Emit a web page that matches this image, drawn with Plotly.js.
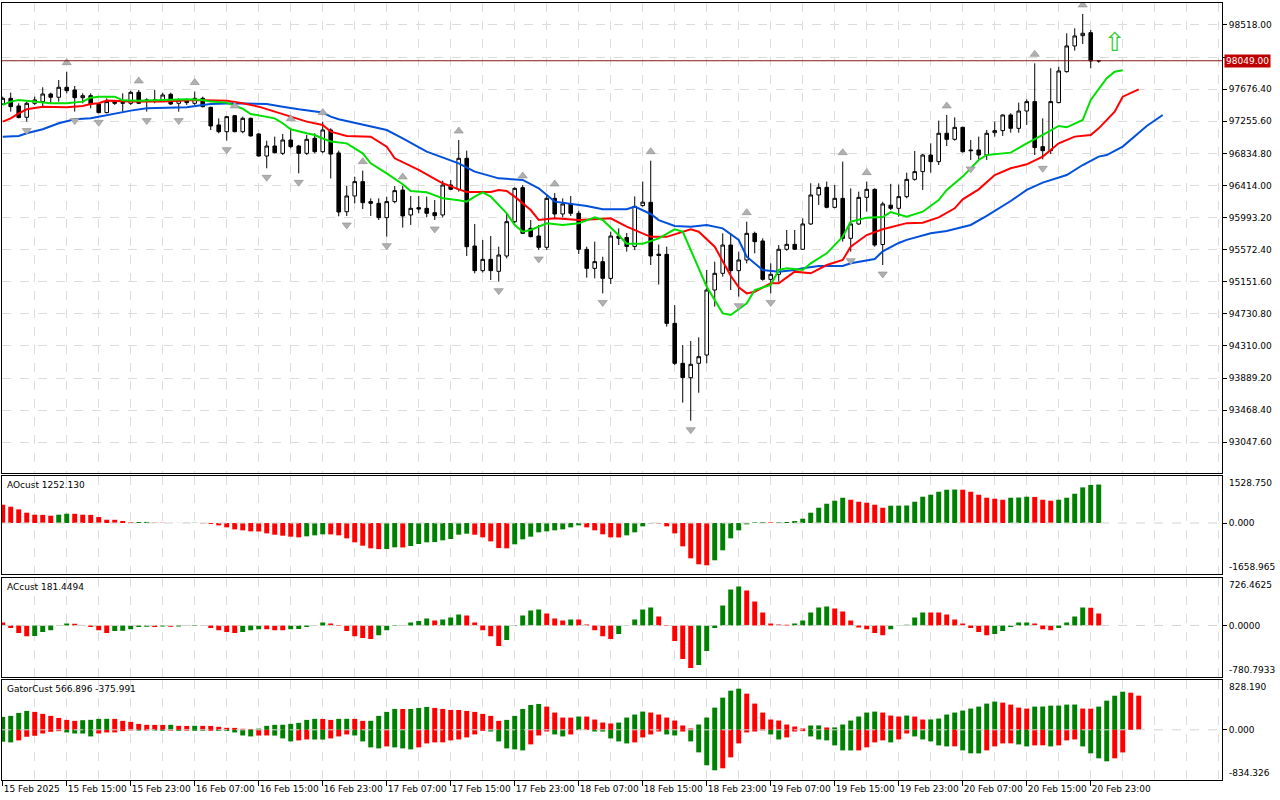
<!DOCTYPE html>
<html><head><meta charset="utf-8">
<script src="https://cdn.plot.ly/plotly-3.0.1.min.js"></script>
<style>html,body{margin:0;padding:0;background:#fff}#chart{width:1280px;height:800px}</style>
</head><body><div id="chart"></div>
<script>
// ---- Price bars (hourly), index 0 = 15 Feb 2025 07:00 ----
const open = [97482,97556,97456,97308,97491,97513,97613,97570,97701,97666,
97565,97591,97482,97369,97513,97491,97491,97635,97526,97526,
97535,97609,97491,97535,97491,97556,97438,97207,97119,97329,
97119,97294,97089,96800,96931,96835,97010,96931,96835,97032,
96857,97141,96840,96070,96276,96464,96202,96180,95992,96202,
96354,96027,96123,96114,96057,96027,96420,96363,96770,95620,
95297,95445,95288,95489,95939,96385,95852,95751,95603,96245,
96040,96171,96049,95576,95327,95415,95196,95751,95732,95615,
96150,96193,95513,95511,94606,94082,93894,94082,94191,95043,
95262,95633,95297,95437,95786,95686,95183,95249,95577,95642,
95577,95909,96289,96389,96127,96245,95721,95909,96258,96363,
95640,96155,96114,96267,96494,96595,96813,96726,97098,97019,
97176,96879,96879,96813,97106,97133,97338,97163,97390,97513,
96923,96870,97500,97906,98243,98378,98417,98046];
const high = [97578,97631,97491,97513,97578,97701,97631,97797,97906,97718,
97622,97622,97491,97556,97535,97622,97657,97666,97556,97666,
97631,97631,97556,97556,97645,97578,97447,97294,97325,97338,
97316,97303,97098,97001,97054,97089,97170,96945,97076,97098,
97251,97163,96870,96407,96529,96608,96245,96245,96267,96407,
96407,96276,96276,96267,96223,96477,96486,97010,96870,95909,
95699,95751,95611,96049,96390,96420,95961,95896,96289,96315,
96245,96276,96084,95611,95677,95480,95808,95852,95790,96270,
96464,96739,95640,95611,94846,94322,94375,94423,95306,95415,
95786,95786,95546,95939,95808,95721,95393,95633,95830,95830,
95983,96442,96442,96464,96420,96726,96376,96333,96464,96376,
96200,96435,96425,96582,96866,96826,96966,97264,97338,97307,
97185,97010,97054,97141,97251,97345,97360,97500,97543,98015,
97294,97950,97972,98409,98474,98662,98452,98059];
const low = [97469,97382,97294,97251,97469,97447,97491,97513,97622,97382,
97491,97425,97360,97360,97469,97382,97469,97482,97382,97491,
97513,97469,97382,97469,97469,97438,97141,97098,97001,97111,
97098,97054,96792,96639,96835,96813,96901,96573,96813,96835,
96835,96507,96010,96014,96180,96105,96014,95961,95743,96180,
95861,95896,96049,95996,95961,95996,96354,96333,95489,95262,
95271,95174,95153,95458,95917,95778,95734,95568,95568,95983,
95996,96014,95515,95205,95196,94999,95122,95633,95546,95568,
96136,95371,95115,94563,94060,93566,93330,93697,94082,94825,
95218,95043,94956,95393,95524,95166,94999,95153,95559,95568,
95568,95896,96158,96114,96114,95677,95546,95896,96070,95611,
95371,96092,96005,96245,96477,96355,96582,96682,96931,97001,
96844,96748,96757,96748,97054,97063,97106,97106,97207,96813,
96757,96826,97491,97893,98181,98269,97950,98024];
const close = [97556,97447,97304,97491,97535,97613,97570,97701,97657,97565,
97591,97482,97369,97513,97491,97500,97635,97491,97535,97535,
97600,97482,97535,97500,97556,97447,97194,97119,97316,97119,
97294,97063,96800,96931,96844,97010,96923,96835,97019,96857,
97141,96825,96066,96276,96464,96188,96180,95992,96202,96346,
96014,96114,96105,96049,96018,96420,96363,96770,95611,95297,
95445,95297,95502,95939,96376,95786,95743,95603,96245,96040,
96171,96049,95576,95327,95415,95196,95751,95721,95615,96140,
96195,95489,95496,94606,94082,93894,94069,94169,95043,95262,
95633,95297,95437,95786,95677,95183,95249,95577,95642,95577,
95909,96289,96389,96127,96245,95721,95909,96258,96363,95633,
96171,96114,96267,96494,96595,96813,96726,97098,97019,97176,
96857,96870,96813,97098,97133,97338,97163,97390,97513,96910,
96870,97513,97915,98243,98374,98409,98046,98049];

// ---- Alligator lines (bar index, price) ----
const lipsBar = [0,1,2,4,6,8,10,11,12,14,15,17,20,23,25,26,28,30,31,33,34,35,36,38,39,40,41,43,45,46,48,50,51,53,55,57,58,59,60,61,63,64,65,66,68,70,72,74,75,77,78,80,82,84,85,86,88,90,91,93,94,96,97,98,100,101,103,105,106,108,110,111,113,115,117,118,120,122,123,126,128,130,132,133,135,136,138,139,140];
const lipsVal = [97470,97513,97535,97513,97491,97491,97513,97565,97578,97578,97530,97526,97535,97543,97535,97513,97500,97420,97351,97316,97294,97230,97150,97098,97076,97030,96990,96966,96835,96704,96573,96430,96341,96324,96245,96220,96202,96267,96324,96267,96049,95896,95808,95830,95917,95896,95917,95996,95961,95760,95650,95650,95720,95839,95808,95568,95087,94737,94715,94868,95043,95109,95306,95327,95306,95393,95524,95743,95939,95992,96000,96065,96005,96070,96223,96355,96530,96748,96813,96844,96966,97076,97194,97176,97272,97535,97819,97906,97924];
const teethBar = [0,1,2,3,5,8,10,11,12,13,16,20,24,26,28,30,32,34,36,38,40,41,43,46,48,49,52,55,57,58,61,62,63,64,66,67,69,72,74,76,78,79,81,83,86,87,89,90,91,92,93,94,96,97,99,101,103,105,106,108,110,113,115,117,119,120,122,124,126,128,130,132,134,136,137,139,140,142];
const teethVal = [97251,97294,97360,97412,97447,97438,97456,97482,97491,97526,97513,97513,97535,97535,97526,97491,97447,97382,97316,97251,97207,97120,97063,97054,96923,96770,96617,96442,96363,96328,96328,96354,96341,96267,96092,95961,95983,95961,95970,95983,95874,95830,95740,95740,95839,95808,95611,95420,95230,95080,94999,95021,95131,95131,95284,95262,95371,95437,95611,95764,95840,95920,95926,95996,96114,96232,96363,96551,96639,96691,96792,96966,97054,97076,97163,97382,97578,97674];
const jawBar = [0,2,3,5,7,9,11,13,16,18,21,23,25,26,29,31,33,35,37,40,41,42,45,48,50,53,57,59,62,65,67,69,73,75,78,79,81,82,84,86,88,90,92,93,95,97,99,100,102,105,106,109,110,112,113,115,116,118,121,123,126,128,130,133,135,137,138,140,143,145];
const jawVal = [97054,97063,97098,97150,97229,97281,97294,97338,97395,97425,97438,97438,97469,97482,97491,97491,97482,97447,97412,97370,97316,97281,97210,97141,97032,96857,96704,96595,96507,96486,96376,96202,96145,96101,96101,96136,96040,95960,95882,95874,95896,95852,95699,95480,95306,95284,95306,95327,95358,95358,95393,95450,95550,95660,95700,95751,95786,95817,95896,96014,96210,96355,96451,96551,96682,96792,96813,96923,97194,97338];

// ---- Fractals and signal ----
const fractalUpBars = [8,17,24,29,36,40,45,50,57,65,69,81,93,105,108,118,129,135];
const fractalDownBars = [3,9,12,18,22,28,33,37,43,48,54,62,67,75,86,92,96,106,110,121,130];
const signalBars = [139];
const signalPrices = [98256];

// ---- Oscillators ----
const ao = [596,531,444,336,271,265,238,271,303,300,
271,265,195,108,105,65,28,32,36,10,
8,2,4,6,8,-10,-30,-76,-141,-206,
-238,-271,-275,-336,-379,-412,-444,-466,-433,-401,
-368,-370,-401,-498,-628,-737,-823,-850,-845,-791,
-795,-748,-683,-628,-620,-563,-520,-379,-347,-379,
-466,-596,-815,-823,-693,-531,-444,-303,-271,-238,
-206,-141,-76,-141,-238,-368,-466,-470,-401,-303,
-108,-10,-15,-108,-336,-758,-1148,-1343,-1376,-1213,
-888,-498,-238,-43,20,33,20,25,33,65,
141,336,498,628,726,823,758,693,661,596,
498,563,566,570,693,856,921,1018,1083,1090,
1085,1018,921,823,791,758,823,830,856,850,
758,726,758,823,953,1160,1240,1252.13];
const ac = [45,-40,-116,-162,-160,-101,-71,-5,30,25,
-5,-25,-71,-116,-86,-80,-56,-25,-20,-25,
-15,-20,-15,-10,5,-10,-40,-71,-101,-116,
-101,-71,-56,-57,-71,-72,-56,-55,-25,5,
45,30,-10,-86,-162,-192,-207,-147,-71,-10,
5,45,66,106,76,91,121,167,152,45,
-71,-162,-313,-222,-10,152,227,242,182,106,
76,91,90,15,-71,-162,-207,-131,-5,91,
242,273,136,-10,-237,-510,-646,-601,-389,-40,
303,545,591,530,364,197,30,15,10,30,
76,197,273,288,258,212,76,-30,-56,-116,
-147,-56,-5,10,121,197,196,195,167,91,
30,-40,-101,-147,-131,-86,-25,45,46,30,
-56,-71,-40,45,136,273,267,181.4494];
const gatorUp = [215,232,281,314,298,265,232,198,165,149,
160,166,182,183,182,149,132,99,83,82,
81,83,66,65,67,66,65,50,33,32,
17,10,20,66,83,84,99,116,165,182,
181,165,182,183,182,149,150,232,298,347,
346,347,364,380,364,347,331,330,314,298,
265,232,149,165,232,347,413,430,386,287,
204,203,221,220,171,121,105,121,204,254,
303,287,254,204,154,72,22,88,204,369,
535,651,684,601,436,287,171,154,88,55,
22,72,73,39,40,88,154,221,287,303,
287,237,221,237,220,171,172,187,254,287,
320,353,386,436,469,452,419,369,353,386,
387,402,403,419,420,353,352,386,485,566.896,
634,617,568];
const gatorDown = [-198,-209,-176,-116,-99,-61,-33,-22,-44,-61,
-62,-110,-61,-44,-43,-22,-11,-12,-11,-12,
-15,-14,-16,-15,-16,-17,-16,-17,-18,-44,
-94,-110,-95,-94,-96,-143,-193,-176,-160,-161,
-162,-143,-110,-77,-94,-193,-292,-309,-276,-292,
-309,-325,-292,-226,-209,-208,-176,-160,-127,-77,
-17,-28,-193,-309,-325,-342,-242,-94,-28,-77,
-110,-77,-5,-4,-28,-29,-143,-193,-226,-209,
-127,-77,-28,-77,-94,-28,-193,-375,-590,-673,
-640,-458,-226,-44,-28,-10,-77,-160,-127,-28,
-22,-110,-160,-176,-259,-342,-343,-342,-292,-209,
-176,-209,-160,-61,-110,-160,-193,-259,-276,-275,
-342,-391,-392,-342,-276,-226,-225,-243,-276,-259,
-258,-276,-259,-176,-160,-276,-391,-474,-524,-474,
-375.991];

// ---- Axes ----
const tickBars = [0,8,16,24,32,40,48,56,64,72,80,88,96,104,112,120,128,136];
const tickLabels = ["15 Feb 2025","15 Feb 15:00","15 Feb 23:00","16 Feb 07:00","16 Feb 15:00","16 Feb 23:00","17 Feb 07:00","17 Feb 15:00","17 Feb 23:00","18 Feb 07:00","18 Feb 15:00","18 Feb 23:00","19 Feb 07:00","19 Feb 15:00","19 Feb 23:00","20 Feb 07:00","20 Feb 15:00","20 Feb 23:00"];
const priceTicks = [93047.6,93468.4,93889.2,94310.0,94730.8,95151.6,95572.4,95993.2,96414.0,96834.8,97255.6,97676.4,98097.2,98518.0];
const priceRange = [92644, 98806];
const aoRange = [-1658.965, 1528.75];
const acRange = [-780.7933, 726.4625];
const gatorRange = [-834.326, 828.19];

// ---- Build ----
const GREEN = '#008000', RED = '#ff0000';
function trendColors(v, first, useAbs) {
  const out = [];
  v.forEach((x, i) => {
    if (i === 0) { out.push(first); return; }
    const a = useAbs ? Math.abs(x) : x, b = useAbs ? Math.abs(v[i-1]) : v[i-1];
    out.push(a > b ? GREEN : (a < b ? RED : out[i-1]));
  });
  return out;
}
const idx = a => a.map((_, i) => i);
const bars = idx(open);
const pxPerPrice = 470 / (priceRange[1] - priceRange[0]);
const fracOff = 9 / pxPerPrice;
const lastPrice = close[close.length - 1];

const traces = [
  {type:'candlestick', x:bars, open:open, high:high, low:low, close:close, xaxis:'x', yaxis:'y',
   increasing:{line:{color:'#000', width:1}, fillcolor:'#ffffff'},
   decreasing:{line:{color:'#000', width:1}, fillcolor:'#000000'},
   whiskerwidth:0, hoverinfo:'skip', showlegend:false},
  {type:'scatter', mode:'lines', x:jawBar, y:jawVal, line:{color:'#0050dc', width:2}, xaxis:'x', yaxis:'y', hoverinfo:'skip', showlegend:false},
  {type:'scatter', mode:'lines', x:teethBar, y:teethVal, line:{color:'#ff0000', width:2}, xaxis:'x', yaxis:'y', hoverinfo:'skip', showlegend:false},
  {type:'scatter', mode:'lines', x:lipsBar, y:lipsVal, line:{color:'#00e000', width:2}, xaxis:'x', yaxis:'y', hoverinfo:'skip', showlegend:false},
  {type:'scatter', mode:'markers', x:fractalUpBars, y:fractalUpBars.map(i => high[i] + fracOff),
   marker:{symbol:'triangle-up', size:8, color:'#b0b0b0', line:{color:'#8c8c8c', width:0.6}}, xaxis:'x', yaxis:'y', hoverinfo:'skip', showlegend:false},
  {type:'scatter', mode:'markers', x:fractalDownBars, y:fractalDownBars.map(i => low[i] - fracOff),
   marker:{symbol:'triangle-down', size:8, color:'#b0b0b0', line:{color:'#8c8c8c', width:0.6}}, xaxis:'x', yaxis:'y', hoverinfo:'skip', showlegend:false},
  {type:'scatter', mode:'text', x:signalBars, y:signalPrices, text:signalBars.map(() => '\u21E7'),
   textfont:{family:'DejaVu Sans', size:26, color:'#33cc33'}, textposition:'middle center', xaxis:'x', yaxis:'y', hoverinfo:'skip', showlegend:false},
  {type:'bar', x:idx(ao), y:ao, width:0.62, marker:{color:trendColors(ao, RED, false), line:{width:0}}, xaxis:'x2', yaxis:'y2', hoverinfo:'skip', showlegend:false},
  {type:'bar', x:idx(ac), y:ac, width:0.62, marker:{color:trendColors(ac, RED, false), line:{width:0}}, xaxis:'x3', yaxis:'y3', hoverinfo:'skip', showlegend:false},
  {type:'bar', x:idx(gatorUp), y:gatorUp, width:0.62, marker:{color:trendColors(gatorUp, GREEN, true), line:{width:0}}, xaxis:'x4', yaxis:'y4', hoverinfo:'skip', showlegend:false},
  {type:'bar', x:idx(gatorDown), y:gatorDown, width:0.62, marker:{color:trendColors(gatorDown, GREEN, true), line:{width:0}}, xaxis:'x4', yaxis:'y4', hoverinfo:'skip', showlegend:false}
];

const GRID = '#dcdcdc';
const xRange = [-0.09, 152.41];
function xax(anchor, showLabels) {
  return {
    anchor: anchor, range: xRange, showline:true, mirror:true, linecolor:'#000', linewidth:1,
    zeroline:false, showgrid:true, gridcolor:GRID, griddash:'dash', gridwidth:1,
    tickmode:'array', tickvals:tickBars, ticktext:tickLabels, tickangle:0,
    showticklabels: showLabels, ticks: showLabels ? 'outside' : '', ticklen:5, tickcolor:'#000',
    ticklabelposition: showLabels ? 'outside right' : 'outside',
    minor:{tickmode:'linear', tick0:0, dtick:4, showgrid:true, gridcolor:GRID, griddash:'dash', ticks:''},
    fixedrange:true, automargin:false, rangeslider:{visible:false}
  };
}
function subY(domain, range, zeroText) {
  return {domain:domain, range:range, side:'right', showline:true, mirror:true, linecolor:'#000', linewidth:1,
    showgrid:false, zeroline:false, tickmode:'array', tickvals:[0], ticktext:[zeroText], ticks:'outside', ticklen:4,
    tickcolor:'#000', fixedrange:true, automargin:false};
}
const dMain = [0.3951, 1], dAO = [0.2651, 0.3912], dAC = [0.1326, 0.2606], dG = [0, 0.1287];
// the current-price box covers the nearest grid label, as in the terminal
const priceLabels = priceTicks.map(v => Math.abs(v - lastPrice) < 100 ? '' : v.toFixed(2));

const layout = {
  width:1280, height:800, margin:{l:2, r:58, t:3, b:20, pad:0},
  paper_bgcolor:'#fff', plot_bgcolor:'#fff', showlegend:false, barmode:'overlay', boxgap:0.36,
  font:{family:'DejaVu Sans', size:9, color:'#000'},
  xaxis: xax('y', false), xaxis2: Object.assign(xax('y2', false), {matches:'x'}),
  xaxis3: Object.assign(xax('y3', false), {matches:'x'}), xaxis4: Object.assign(xax('y4', true), {matches:'x'}),
  yaxis: {domain:dMain, range:priceRange, side:'right', showline:true, mirror:true, linecolor:'#000', linewidth:1,
    showgrid:true, gridcolor:GRID, griddash:'dash', zeroline:false, tickmode:'array', tickvals:priceTicks,
    ticktext:priceLabels, ticks:'outside', ticklen:4, tickcolor:'#000', fixedrange:true, automargin:false},
  yaxis2: subY(dAO, aoRange, '0.000'),
  yaxis3: subY(dAC, acRange, '0.0000'),
  yaxis4: subY(dG, gatorRange, '0.000'),
  shapes: [
    {type:'line', xref:'paper', x0:0, x1:1, yref:'y', y0:lastPrice, y1:lastPrice, line:{color:'#8b1a1a', width:1}},
    {type:'line', xref:'paper', x0:0, x1:1, yref:'y2', y0:0, y1:0, layer:'above', line:{color:'#d4d4d4', width:1, dash:'dash'}},
    {type:'line', xref:'paper', x0:0, x1:1, yref:'y3', y0:0, y1:0, layer:'above', line:{color:'#d4d4d4', width:1, dash:'dash'}},
    {type:'line', xref:'paper', x0:0, x1:1, yref:'y4', y0:0, y1:0, layer:'above', line:{color:'#d4d4d4', width:1, dash:'dash'}}
  ],
  annotations: [
    {xref:'paper', x:1, xanchor:'left', xshift:2, yref:'y', y:lastPrice, yanchor:'middle', text:lastPrice.toFixed(2),
     showarrow:false, bgcolor:'#c00000', font:{color:'#fff', size:9}, borderpad:1},
    {xref:'paper', x:0, xanchor:'left', xshift:3, yref:'paper', y:dAO[1], yanchor:'top', yshift:-2, showarrow:false,
     text:'AOcust ' + ao[ao.length-1].toFixed(3), font:{size:9}},
    {xref:'paper', x:0, xanchor:'left', xshift:3, yref:'paper', y:dAC[1], yanchor:'top', yshift:-2, showarrow:false,
     text:'ACcust ' + ac[ac.length-1].toFixed(4), font:{size:9}},
    {xref:'paper', x:0, xanchor:'left', xshift:3, yref:'paper', y:dG[1], yanchor:'top', yshift:-2, showarrow:false,
     text:'GatorCust ' + gatorUp[gatorUp.length-4].toFixed(3) + ' ' + gatorDown[gatorDown.length-1].toFixed(3), font:{size:9}},
    {xref:'paper', x:1, xanchor:'left', xshift:5, yref:'paper', y:dAO[1], yanchor:'top', showarrow:false, text:aoRange[1].toFixed(3)},
    {xref:'paper', x:1, xanchor:'left', xshift:5, yref:'paper', y:dAO[0], yanchor:'bottom', showarrow:false, text:aoRange[0].toFixed(3)},
    {xref:'paper', x:1, xanchor:'left', xshift:5, yref:'paper', y:dAC[1], yanchor:'top', showarrow:false, text:acRange[1].toFixed(4)},
    {xref:'paper', x:1, xanchor:'left', xshift:5, yref:'paper', y:dAC[0], yanchor:'bottom', showarrow:false, text:acRange[0].toFixed(4)},
    {xref:'paper', x:1, xanchor:'left', xshift:5, yref:'paper', y:dG[1], yanchor:'top', showarrow:false, text:gatorRange[1].toFixed(3)},
    {xref:'paper', x:1, xanchor:'left', xshift:5, yref:'paper', y:dG[0], yanchor:'bottom', showarrow:false, text:gatorRange[0].toFixed(3)}
  ]
};

Plotly.newPlot('chart', traces, layout, {displayModeBar:false, staticPlot:true});
</script></body></html>
